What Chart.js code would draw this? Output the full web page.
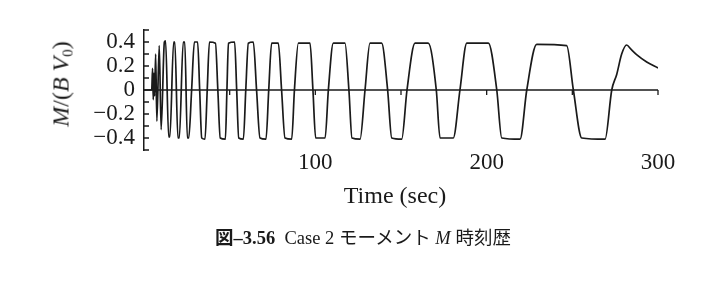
<!DOCTYPE html>
<html>
<head>
<meta charset="utf-8">
<script src="https://cdn.jsdelivr.net/npm/chart.js@4.4.1/dist/chart.umd.min.js"></script>
<style>
  html, body { margin: 0; padding: 0; background: #fff; }
  #wrap { position: relative; width: 725px; height: 281px; overflow: hidden; }
  .lbl { position: absolute; white-space: nowrap; color: #1a1a1a; font-family: "Liberation Serif", "Noto Sans CJK JP", serif; }
  #ytitle { left: 62px; top: 84px; font-size: 24px; transform: translate(-50%, -50%) rotate(-90deg); }
  #ytitle sub { font-size: 15px; vertical-align: -4px; }
  #xtitle { left: 395px; top: 195px; font-size: 24px; transform: translate(-50%, -50%); }
  #caption { left: 363px; top: 236px; font-size: 18.5px; transform: translate(-50%, -50%); }
</style>
</head>
<body>
<div id="wrap">
  <canvas id="grafico" width="725" height="281"></canvas>
  <div class="lbl" id="ytitle"><i>M</i>/(<i>B</i> <i>V</i><sub>0</sub>)</div>
  <div class="lbl" id="xtitle">Time (sec)</div>
  <div class="lbl" id="caption"><b>図–3.56</b>&nbsp; Case 2 モーメント <i>M</i> 時刻歴</div>
</div>
<script>
// tiempos (s) y momento adimensional M/(B V0)
const tiempos = [
  0, 4.5, 5.0, 5.4, 5.8, 6.2, 6.8, 7.5, 8.9, 10.0,
  11.9, 12.6, 14.4, 15.1, 17.3, 18.0, 19.8, 20.6, 22.9, 23.8,
  25.3, 26.1, 27.8, 29.4, 31.3, 32.5, 33.7, 35.6, 36.9, 38.2,
  41.7, 43.1, 44.5, 47.5, 48.4, 49.3, 52.9, 54.1, 55.3, 58.0,
  59.4, 60.9, 63.8, 65.7, 67.7, 71.2, 72.8, 74.5, 78.4, 80.3,
  82.3, 86.2, 87.8, 90.1, 96.9, 98.6, 100.2, 105.7, 107.6, 110.5,
  117.3, 119.6, 121.4, 126.1, 129.0, 131.9, 138.7, 142.2, 144.6, 150.4,
  153.5, 158.2, 165.9, 170.6, 172.8, 180.5, 184.4, 188.4, 201.0, 205.9,
  208.8, 219.5, 223.4, 229.2, 246.7, 250.6, 255.5, 269.1, 273.0, 275.9,
  278.8, 281.7, 284.2, 287.5, 293.4, 300.0
];
const momento = [
  0, 0, 0.18, -0.08, 0.14, -0.05, 0.30, -0.26, 0.37, -0.33,
  0.40, 0.41, -0.39, -0.39, 0.40, 0.40, -0.40, -0.40, 0.40, 0.40,
  -0.40, -0.40, 0, 0.40, 0.40, 0, -0.40, -0.41, 0, 0.40,
  0.39, 0, -0.40, -0.41, 0, 0.39, 0.40, 0, -0.40, -0.41,
  0, 0.39, 0.40, 0, -0.40, -0.41, 0, 0.39, 0.39, 0,
  -0.40, -0.41, 0, 0.39, 0.39, 0, -0.40, -0.40, 0, 0.39,
  0.39, 0, -0.40, -0.41, 0, 0.39, 0.39, 0, -0.40, -0.41,
  0, 0.39, 0.39, 0, -0.40, -0.40, 0, 0.39, 0.39, 0,
  -0.40, -0.41, 0, 0.38, 0.37, 0, -0.40, -0.41, 0, 0.13,
  0.30, 0.375, 0.34, 0.295, 0.234, 0.184
];
const xTicks = [100, 200, 300];          // etiquetas del eje de tiempo
const marcasCero = [50, 100, 150, 200, 250, 300]; // marcas sobre la linea cero
const yMin = -0.5, yMax = 0.5;

const tinta = "#1a1a1a";
const fuente = "'Liberation Serif', serif";

// linea cero con marcas y marcas interiores del eje y
const marcasEjes = {
  id: "marcasEjes",
  beforeDatasetsDraw(chart) {
    const { ctx, scales: { x, y }, chartArea } = chart;
    const y0 = y.getPixelForValue(0);
    ctx.save();
    ctx.strokeStyle = tinta;
    ctx.lineWidth = 1.3;
    ctx.beginPath();
    ctx.moveTo(x.getPixelForValue(0), y0);
    ctx.lineTo(x.getPixelForValue(300), y0);
    marcasCero.forEach(t => {
      const px = x.getPixelForValue(t);
      ctx.moveTo(px, y0);
      ctx.lineTo(px, y0 + 5);
    });
    y.ticks.forEach(t => {
      const py = y.getPixelForValue(t.value);
      ctx.moveTo(chartArea.left, py);
      ctx.lineTo(chartArea.left + 5, py);
    });
    ctx.stroke();
    ctx.restore();
  }
};

function generarGrafico() {
  const ctx = document.getElementById("grafico").getContext("2d");
  const puntos = tiempos.map((t, i) => ({ x: t, y: momento[i] }));

  new Chart(ctx, {
    type: "line",
    data: {
      datasets: [{
        data: puntos,
        borderColor: tinta,
        borderWidth: 1.7,
        pointRadius: 0,
        fill: false,
        cubicInterpolationMode: "monotone"
      }]
    },
    options: {
      responsive: false,
      animation: false,
      devicePixelRatio: 1,
      layout: { padding: { left: 0, right: 67, top: 30, bottom: 101 } },
      plugins: { legend: { display: false }, tooltip: { enabled: false } },
      scales: {
        x: {
          type: "linear",
          min: 0,
          max: 300,
          afterBuildTicks: s => { s.ticks = xTicks.map(v => ({ value: v })); },
          ticks: { color: tinta, font: { family: fuente, size: 23 }, padding: -9, maxRotation: 0, autoSkip: false },
          grid: { display: false },
          border: { display: false },
          afterFit: s => { s.height = 30; }
        },
        y: {
          min: yMin,
          max: yMax,
          ticks: {
            stepSize: 0.1,
            autoSkip: false,
            color: tinta,
            font: { family: fuente, size: 23 },
            padding: 9,
            callback: v => {
              const d = Math.round(v * 10);
              if (d % 2 !== 0) return "";
              if (d === 0) return "0";
              return (d < 0 ? "\u2212" : "") + (Math.abs(d) / 10).toFixed(1);
            }
          },
          grid: { drawOnChartArea: false, drawTicks: false },
          border: { display: true, color: tinta, width: 1.5 },
          afterFit: s => { s.width = 144; }
        }
      }
    },
    plugins: [marcasEjes]
  });
}

generarGrafico();
</script>
</body>
</html>
